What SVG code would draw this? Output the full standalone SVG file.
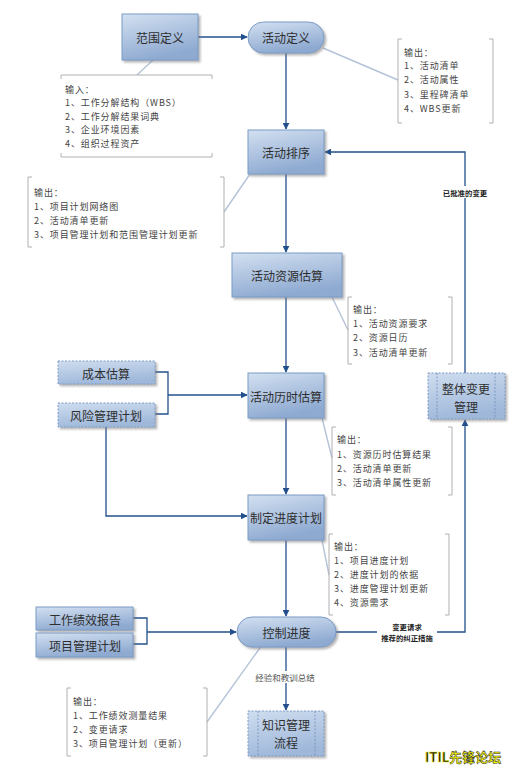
<svg xmlns="http://www.w3.org/2000/svg" width="512" height="768" viewBox="0 0 512 768">
<defs>
<linearGradient id="g" x1="0" y1="0" x2="0.35" y2="1">
<stop offset="0" stop-color="#d3e0f1"/>
<stop offset="1" stop-color="#8eaad1"/>
</linearGradient>
<linearGradient id="gd" x1="0" y1="0" x2="0.3" y2="1">
<stop offset="0" stop-color="#cfddef"/>
<stop offset="1" stop-color="#9fb8da"/>
</linearGradient>
<marker id="a" viewBox="0 0 10 10" refX="9" refY="5" markerWidth="7" markerHeight="7" markerUnits="userSpaceOnUse" orient="auto">
<path d="M0,0 L10,5 L0,10 z" fill="#23508c"/>
</marker>
<filter id="sh" x="-10%" y="-10%" width="130%" height="140%">
<feDropShadow dx="2" dy="2" stdDeviation="1.2" flood-color="#7a7a7a" flood-opacity="0.55"/>
</filter>
</defs>
<style>
.n{fill:url(#g);stroke:#7b9bc6;stroke-width:1;filter:url(#sh)}
.d{fill:url(#gd);stroke:#7f9cc6;stroke-width:1;stroke-dasharray:2 1.5;filter:url(#sh)}
.il{stroke:#6f8fbd;stroke-width:0.8;stroke-dasharray:2 1.5;fill:none}
.t{font-family:"Noto Sans CJK SC","Noto Sans",sans-serif;font-size:12px;fill:#2e2e2e;text-anchor:middle;dominant-baseline:central}
.o{font-family:"Noto Sans CJK SC","Noto Sans",sans-serif;font-size:9px;letter-spacing:0.9px;fill:#444;dominant-baseline:central}
.l{font-family:"Noto Sans CJK SC","Noto Sans",sans-serif;font-size:7.4px;font-weight:bold;fill:#222;text-anchor:middle;dominant-baseline:central}
.l2{font-family:"Noto Sans CJK SC","Noto Sans",sans-serif;font-size:8.5px;fill:#555;text-anchor:middle;dominant-baseline:central}
.c{stroke:#23508c;stroke-width:1.3;fill:none}
.k{stroke:#b4c3d8;stroke-width:1.4;fill:none}
.b{stroke:#b0b0b0;stroke-width:1;fill:none}
</style>

<g id="connectors">
<path class="c" d="M198,37 H247" marker-end="url(#a)"/>
<path class="c" d="M286,53 V129" marker-end="url(#a)"/>
<path class="c" d="M286,174 V252" marker-end="url(#a)"/>
<path class="c" d="M286,297 V372" marker-end="url(#a)"/>
<path class="c" d="M155,372 H168 V414 H155"/>
<path class="c" d="M168,395 H247" marker-end="url(#a)"/>
<path class="c" d="M106,427 V516 H247" marker-end="url(#a)"/>
<path class="c" d="M286,418 V494" marker-end="url(#a)"/>
<path class="c" d="M286,540 V616" marker-end="url(#a)"/>
<path class="c" d="M133,618 H147 V644 H133"/>
<path class="c" d="M147,632 H236" marker-end="url(#a)"/>
<path class="c" d="M336,632 H465 V420" marker-end="url(#a)"/>
<path class="c" d="M465,373 V152 H325" marker-end="url(#a)"/>
<path class="c" d="M286,647 V710" marker-end="url(#a)"/>
<rect x="433" y="186" width="64" height="12" fill="#fff"/>
<text class="l" x="465" y="192">已批准的变更</text>
<rect x="377" y="620" width="60" height="23" fill="#fff"/>
<text class="l" x="407" y="626">变更请求</text>
<text class="l" x="407" y="637.5">推荐的纠正措施</text>
<rect x="252" y="671" width="66" height="12" fill="#fff"/>
<text class="l2" x="285" y="677">经验和教训总结</text>
<path class="k" d="M153,60 L137,75"/>
<path class="k" d="M323,48 L398,80"/>
<path class="k" d="M224,212 L250,174"/>
<path class="k" d="M332,297 L348,330"/>
<path class="k" d="M322,418 L332,458"/>
<path class="k" d="M322,540 L329,575"/>
<path class="k" d="M207,722 L262,645"/>
</g>

<g id="n-scope">
<rect class="n" x="122" y="14" width="76" height="46"/>
<text class="t" x="160" y="37">范围定义</text>
</g>
<g id="n-define">
<rect class="n" x="248" y="22" width="76" height="31" rx="15.5"/>
<text class="t" x="286" y="37.5">活动定义</text>
</g>
<g id="n-seq">
<rect class="n" x="248" y="130" width="76" height="44"/>
<text class="t" x="286" y="152">活动排序</text>
</g>
<g id="n-res">
<rect class="n" x="232" y="253" width="110" height="44"/>
<text class="t" x="287" y="275">活动资源估算</text>
</g>
<g id="n-dur">
<rect class="n" x="248" y="373" width="76" height="45"/>
<text class="t" x="286" y="396">活动历时估算</text>
</g>
<g id="n-sched">
<rect class="n" x="248" y="495" width="76" height="45"/>
<text class="t" x="286" y="517">制定进度计划</text>
</g>
<g id="n-control">
<rect class="n" x="237" y="617" width="99" height="30" rx="15"/>
<text class="t" x="286.5" y="632">控制进度</text>
</g>
<g id="n-km">
<rect class="d" x="248" y="711" width="76" height="45"/>
<path class="il" d="M258,711 V756 M315,711 V756"/>
<text class="t" x="286" y="724.5">知识管理</text>
<text class="t" x="286" y="742.5">流程</text>
</g>
<g id="n-icm">
<rect class="d" x="428" y="373" width="77" height="46"/>
<path class="il" d="M437,373 V419 M495,373 V419"/>
<text class="t" x="466" y="388.5">整体变更</text>
<text class="t" x="466" y="406.5">管理</text>
</g>
<g id="n-cost">
<rect class="d" x="58" y="361" width="97" height="23"/>
<text class="t" x="106" y="373">成本估算</text>
</g>
<g id="n-risk">
<rect class="d" x="58" y="403" width="97" height="24"/>
<text class="t" x="106" y="415">风险管理计划</text>
</g>
<g id="n-wpr">
<rect class="n" x="36" y="607" width="97" height="23"/>
<text class="t" x="85" y="619">工作绩效报告</text>
</g>
<g id="n-pmp">
<rect class="n" x="36" y="633" width="97" height="24"/>
<text class="t" x="85" y="645">项目管理计划</text>
</g>

<g id="note-input">
<path class="b" d="M61,79 V75 H212 V79 M61,153 V157 H212 V153"/>
<text class="o" x="65" y="89">输入：</text>
<text class="o" x="65" y="102.5">1、工作分解结构（WBS）</text>
<text class="o" x="65" y="116">2、工作分解结果词典</text>
<text class="o" x="65" y="129.5">3、企业环境因素</text>
<text class="o" x="65" y="143">4、组织过程资产</text>
</g>
<g id="note-out1">
<path class="b" d="M402,39 H398 V123 H402 M489,39 H493 V123 H489"/>
<text class="o" x="404" y="52">输出：</text>
<text class="o" x="404" y="65.5">1、活动清单</text>
<text class="o" x="404" y="79.5">2、活动属性</text>
<text class="o" x="404" y="94">3、里程碑清单</text>
<text class="o" x="404" y="108">4、WBS更新</text>
</g>
<g id="note-out2">
<path class="b" d="M32,177 H28 V247 H32 M220,177 H224 V247 H220"/>
<text class="o" x="34" y="192">输出：</text>
<text class="o" x="34" y="206">1、项目计划网络图</text>
<text class="o" x="34" y="220">2、活动清单更新</text>
<text class="o" x="34" y="234">3、项目管理计划和范围管理计划更新</text>
</g>
<g id="note-out3">
<path class="b" d="M352,297 H348 V364 H352 M448,297 H452 V364 H448"/>
<text class="o" x="353" y="309">输出：</text>
<text class="o" x="353" y="323">1、活动资源要求</text>
<text class="o" x="353" y="337.5">2、资源日历</text>
<text class="o" x="353" y="352">3、活动清单更新</text>
</g>
<g id="note-out4">
<path class="b" d="M336,427 H332 V495 H336 M448,427 H452 V495 H448"/>
<text class="o" x="337" y="439.5">输出：</text>
<text class="o" x="337" y="454">1、资源历时估算结果</text>
<text class="o" x="337" y="468">2、活动清单更新</text>
<text class="o" x="337" y="482">3、活动清单属性更新</text>
</g>
<g id="note-out5">
<path class="b" d="M333,534 H329 V615 H333 M445,534 H449 V615 H445"/>
<text class="o" x="334" y="546">输出：</text>
<text class="o" x="334" y="560">1、项目进度计划</text>
<text class="o" x="334" y="574">2、进度计划的依据</text>
<text class="o" x="334" y="588">3、进度管理计划更新</text>
<text class="o" x="334" y="602">4、资源需求</text>
</g>
<g id="note-out6">
<path class="b" d="M71,688 H67 V756 H71 M203,688 H207 V756 H203"/>
<text class="o" x="73" y="701.5">输出：</text>
<text class="o" x="73" y="715">1、工作绩效测量结果</text>
<text class="o" x="73" y="729">2、变更请求</text>
<text class="o" x="73" y="743">3、项目管理计划（更新）</text>
</g>

<text x="425" y="762" font-family="'Noto Sans CJK SC','Noto Sans',sans-serif" font-size="13" font-weight="bold" stroke-width="0.5"><tspan fill="#111" stroke="#ee0">ITIL</tspan><tspan fill="#ff0" stroke="#222">先锋论坛</tspan></text>
</svg>
